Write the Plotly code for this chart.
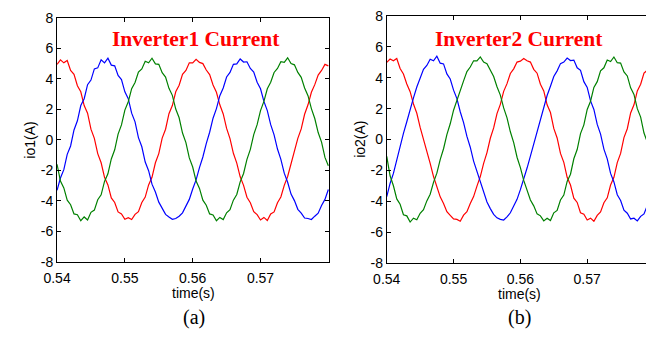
import plotly.graph_objects as go

t0 = 0.54
dt = 0.0005

red_a = [4.95, 5.25, 5.05, 5.20, 4.55, 4.30, 3.55, 3.15, 2.25, 1.75, 0.70, 0.10, -0.90, -1.50, -2.45, -2.95, -3.80, -4.10, -4.72, -4.85,
         -5.20, -5.10, -5.22, -4.88, -4.70, -4.10, -3.75, -2.95, -2.45, -1.50, -0.90, 0.12, 0.70, 1.72, 2.25, 3.15, 3.58, 4.30, 4.55, 5.05,
         5.05, 5.28, 5.08, 5.00, 4.58, 4.28, 3.60, 3.12, 2.30, 1.70, 0.75, 0.08, -0.88, -1.52, -2.42, -2.98, -3.76, -4.12, -4.70, -4.90,
         -5.25, -5.08, -5.28, -4.85, -4.72, -4.12, -3.74, -2.98, -2.40, -1.55, -0.85, 0.10, 0.72, 1.68, 2.30, 3.12, 3.62, 4.25, 4.55, 4.95,
         4.85]
blue_a = [-3.30, -2.50, -1.95, -0.95, -0.40, 0.65, 1.25, 2.25, 2.70, 3.62, 3.92, 4.65, 4.72, 5.25, 5.05, 5.35, 4.90, 4.85, 4.22, 3.95,
          3.15, 2.70, 1.75, 1.18, 0.15, -0.45, -1.45, -2.02, -2.90, -3.42, -4.08, -4.45, -4.88, -5.05, -5.20, -5.15, -5.00, -4.78, -4.32, -3.90,
          -3.22, -2.62, -1.82, -1.12, -0.24, 0.50, 1.42, 2.05, 2.90, 3.40, 4.12, 4.42, 4.95, 4.98, 5.30, 5.10, 5.12, 4.68, 4.45, 3.78,
          3.35, 2.52, 1.92, 1.00, 0.33, -0.60, -1.28, -2.18, -2.78, -3.55, -3.98, -4.55, -4.80, -5.12, -5.15, -5.22, -5.00, -4.80, -4.30, -3.90,
          -3.25]
green_a = [-1.60, -2.70, -3.15, -3.95, -4.25, -4.85, -4.90, -5.30, -5.05, -5.25, -4.75, -4.60, -3.92, -3.60, -2.72, -2.22, -1.25, -0.65, 0.38, 0.98,
           1.95, 2.50, 3.36, 3.76, 4.45, 4.65, 5.15, 5.05, 5.35, 4.98, 4.95, 4.40, 4.12, 3.38, 2.92, 2.02, 1.45, 0.45, -0.18, -1.18,
           -1.78, -2.70, -3.18, -3.95, -4.28, -4.85, -4.92, -5.30, -5.08, -5.22, -4.78, -4.58, -3.95, -3.58, -2.75, -2.20, -1.28, -0.62, 0.35, 1.00,
           1.92, 2.52, 3.35, 3.78, 4.42, 4.68, 5.12, 5.08, 5.38, 5.00, 4.92, 4.42, 4.10, 3.40, 2.90, 2.05, 1.40, 0.48, -0.15, -1.15,
           -1.70]

red_b = [5.00, 5.22, 5.10, 5.25, 4.60, 4.25, 3.60, 3.10, 2.30, 1.70, 0.78, 0.05, -0.85, -1.55, -2.40, -3.00, -3.72, -4.15, -4.68, -4.92,
         -5.15, -5.18, -5.30, -4.90, -4.68, -4.15, -3.70, -3.02, -2.40, -1.55, -0.85, 0.08, 0.75, 1.68, 2.28, 3.12, 3.62, 4.28, 4.58, 5.02,
         5.08, 5.25, 5.10, 5.02, 4.55, 4.30, 3.58, 3.15, 2.25, 1.75, 0.72, 0.10, -0.90, -1.48, -2.45, -2.95, -3.80, -4.08, -4.75, -4.85,
         -5.22, -5.10, -5.30, -4.92, -4.70, -4.10, -3.78, -2.95, -2.45, -1.50, -0.90, 0.12, 0.70, 1.72, 2.25, 3.15, 3.58, 4.30, 4.50, 4.95,
         4.90]
blue_b = [-3.70, -2.85, -2.20, -1.30, -0.55, 0.40, 1.15, 2.00, 2.70, 3.40, 3.95, 4.55, 4.80, 5.20, 5.10, 5.40, 4.95, 4.90, 4.25, 3.92,
          3.20, 2.65, 1.80, 1.10, 0.20, -0.50, -1.40, -2.05, -2.85, -3.45, -4.05, -4.48, -4.85, -5.08, -5.18, -5.22, -5.02, -4.75, -4.35, -3.88,
          -3.25, -2.58, -1.85, -1.08, -0.28, 0.55, 1.38, 2.10, 2.85, 3.45, 4.08, 4.45, 4.92, 5.02, 5.28, 5.12, 5.15, 4.65, 4.48, 3.75,
          3.38, 2.50, 1.95, 0.98, 0.35, -0.62, -1.25, -2.20, -2.75, -3.58, -3.95, -4.58, -4.78, -5.15, -5.10, -5.28, -4.98, -4.82, -4.28, -3.92,
          -3.22]
green_b = [-1.10, -2.35, -3.00, -3.85, -4.20, -4.88, -4.95, -5.35, -5.10, -5.20, -4.78, -4.55, -3.98, -3.55, -2.78, -2.18, -1.30, -0.60, 0.32, 1.02,
           1.90, 2.55, 3.30, 3.80, 4.40, 4.70, 5.10, 5.10, 5.35, 5.02, 4.92, 4.45, 4.08, 3.42, 2.88, 2.05, 1.40, 0.50, -0.20, -1.15,
           -1.82, -2.65, -3.22, -3.92, -4.30, -4.82, -4.95, -5.28, -5.10, -5.25, -4.75, -4.60, -3.92, -3.60, -2.72, -2.25, -1.25, -0.65, 0.38, 0.95,
           1.95, 2.48, 3.38, 3.75, 4.45, 4.65, 5.15, 5.05, 5.35, 4.98, 4.95, 4.38, 4.12, 3.35, 2.92, 2.00, 1.45, 0.42, -0.18, -1.20,
           -1.75]

x_ticks = [0.54, 0.55, 0.56, 0.57]
x_tick_text = ["0.54", "0.55", "0.56", "0.57"]
y_ticks = [-8, -6, -4, -2, 0, 2, 4, 6, 8]
y_tick_text = ["-8", "-6", "-4", "-2", "0", "2", "4", "6", "8"]

W, H = 646, 340

def times(n):
    return [round(t0 + dt * i, 5) for i in range(n)]

fig = go.Figure()
colors = {"red": "#ff0000", "blue": "#0000ff", "green": "#008000"}
for name, ys in [("red", red_a), ("blue", blue_a), ("green", green_a)]:
    fig.add_trace(go.Scatter(x=times(len(ys)), y=ys, mode="lines", line=dict(color=colors[name], width=1.2),
                             xaxis="x", yaxis="y", showlegend=False))
for name, ys in [("red", red_b), ("blue", blue_b), ("green", green_b)]:
    fig.add_trace(go.Scatter(x=times(len(ys)), y=ys, mode="lines", line=dict(color=colors[name], width=1.2),
                             xaxis="x2", yaxis="y2", showlegend=False))

tickfont = dict(family="Liberation Sans, Arial", size=14, color="black")
common_x = dict(tickmode="array", tickvals=x_ticks, ticktext=x_tick_text, ticks="inside", ticklen=4,
                tickcolor="black", showline=True, linecolor="black", linewidth=1, showgrid=False,
                zeroline=False, tickfont=tickfont, ticklabelstandoff=3)
common_y = dict(tickmode="array", tickvals=y_ticks, ticktext=y_tick_text, ticks="inside", ticklen=4,
                tickcolor="black", showline=True, linecolor="black", linewidth=1, showgrid=False,
                zeroline=False, tickfont=tickfont, range=[-8, 8])

ya_dom = [1 - 266.5 / H, 1 - 10.3 / H]
yb_dom = [1 - 267.5 / H, 1 - 8.5 / H]

fig.update_layout(
    width=W, height=H, margin=dict(l=0, r=0, t=0, b=0),
    paper_bgcolor="white", plot_bgcolor="white",
    xaxis=dict(domain=[44 / W, 322 / W], range=[0.54, 0.5801], mirror="ticks", anchor="y", **common_x),
    yaxis=dict(domain=ya_dom, mirror="ticks", anchor="x", **common_y),
    xaxis2=dict(domain=[381 / W, 1.0], range=[0.54, 0.5788], mirror="ticks", anchor="y2", **common_x),
    yaxis2=dict(domain=yb_dom, mirror=False, anchor="x2", **common_y),
)

serif = "Liberation Serif, Times New Roman"
sans = "Liberation Sans, Arial"
ann = [
    dict(text="<b>Inverter1 Current</b>", x=186 / W, y=1 - 33 / H, font=dict(family=serif, size=21.5, color="#ff0000")),
    dict(text="<b>Inverter2 Current</b>", x=516 / W, y=1 - 33 / H, font=dict(family=serif, size=21.5, color="#ff0000")),
    dict(text="time(s)", x=183 / W, y=1 - 299 / H, font=dict(family=sans, size=14, color="black")),
    dict(text="time(s)", x=517 / W, y=1 - 300 / H, font=dict(family=sans, size=14, color="black")),
    dict(text="io1(A)", x=16 / W, y=1 - 138.5 / H, textangle=-90, font=dict(family=sans, size=14, color="black")),
    dict(text="io2(A)", x=353 / W, y=1 - 138 / H, textangle=-90, font=dict(family=sans, size=14, color="black")),
    dict(text="(a)", x=184 / W, y=1 - 325 / H, font=dict(family=serif, size=20, color="black")),
    dict(text="(b)", x=517 / W, y=1 - 325 / H, font=dict(family=serif, size=20, color="black")),
]
for a in ann:
    a.update(xref="paper", yref="paper", showarrow=False, xanchor="center", yanchor="middle")
fig.update_layout(annotations=ann)

fig.write_html("out.html")
